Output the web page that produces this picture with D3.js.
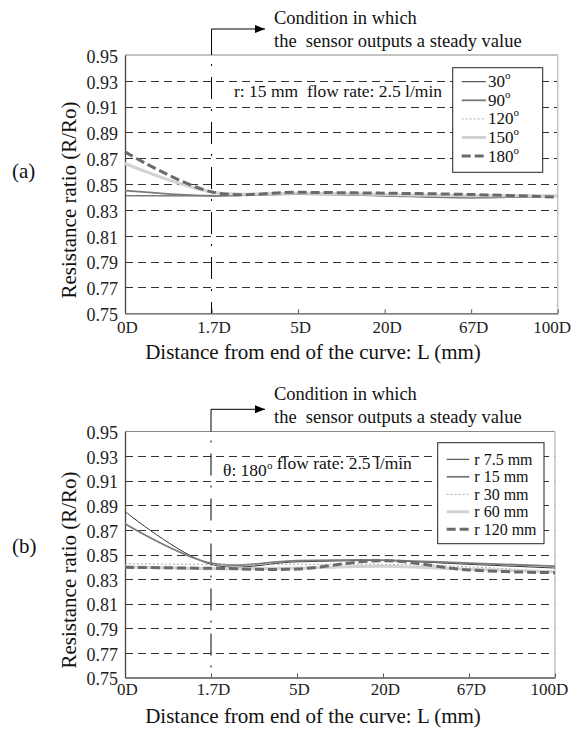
<!DOCTYPE html>
<html>
<head>
<meta charset="utf-8">
<script src="https://cdn.jsdelivr.net/npm/d3@7"></script>
<style>
  body { margin: 0; background: #fff; }
  svg { font-family: "Liberation Serif", "Times New Roman", serif; }
</style>
</head>
<body>
<div id="chart"></div>
<script>
// x categories (distance from end of the curve)
var distLabels = ["0D", "1.7D", "5D", "20D", "67D", "100D"];
var yTicks = [0.75, 0.77, 0.79, 0.81, 0.83, 0.85, 0.87, 0.89, 0.91, 0.93, 0.95];

// panel (a): bend angle, r = 15 mm
var anglesA = ["30", "90", "120", "150", "180"];
var a30  = [0.841, 0.841, 0.842, 0.841, 0.8395, 0.841];
var a90  = [0.845, 0.841, 0.843, 0.841, 0.8395, 0.841];
var a120 = [0.865, 0.844, 0.843, 0.842, 0.841, 0.840];
var a150 = [0.866, 0.844, 0.843, 0.842, 0.841, 0.841];
var a180 = [0.875, 0.844, 0.8437, 0.843, 0.842, 0.840];

// panel (b): curve radius, theta = 180
var radiiB = ["r 7.5 mm", "r 15 mm", "r 30 mm", "r 60 mm", "r 120 mm"];
var b7_5 = [0.885, 0.842, 0.844, 0.845, 0.842, 0.839];
var b15  = [0.875, 0.843, 0.845, 0.8455, 0.843, 0.8405];
var b30  = [0.8425, 0.842, 0.842, 0.842, 0.840, 0.836];
var b60  = [0.840, 0.8385, 0.839, 0.8405, 0.838, 0.836];
var b120 = [0.8396, 0.8388, 0.8382, 0.845, 0.8374, 0.8352];

// line styles, same order in both panels
var styles = [
    {color: "#333", width: 1, dash: null},
    {color: "#7a7a7a", width: 1.8, dash: null},
    {color: "#aaa", width: 1, dash: "2,2"},
    {color: "#d2d2d2", width: 3, dash: null},
    {color: "#6a6a6a", width: 3, dash: "9,4"}
];

var svg = d3.select("#chart").append("svg")
    .attr("width", 577)
    .attr("height", 731);

var defs = svg.append("defs");
defs.append("marker")
    .attr("id", "arrow")
    .attr("viewBox", "0 0 10 10")
    .attr("refX", 10).attr("refY", 5)
    .attr("markerWidth", 10).attr("markerHeight", 10)
    .attr("markerUnits", "userSpaceOnUse")
    .attr("orient", "auto")
    .append("path")
    .attr("d", "M0,1 L10,5 L0,9 Z")
    .attr("fill", "#000");

function drawPanel(p) {
    var x = d3.scalePoint().domain(distLabels).range([p.left, p.right]);
    var y = d3.scaleLinear().domain([0.75, 0.95]).range([p.bottom, p.top]);
    var g = svg.append("g");

    // dashed grid
    g.selectAll(".grid")
        .data(yTicks.slice(1, -1))
        .enter().append("line")
        .attr("x1", p.left).attr("x2", p.right)
        .attr("y1", function (d) { return Math.round(y(d)) + 0.5; })
        .attr("y2", function (d) { return Math.round(y(d)) + 0.5; })
        .attr("stroke", "#333")
        .attr("stroke-width", 1)
        .attr("stroke-dasharray", "8,5");

    // frame: top and right are lighter
    g.append("line").attr("x1", p.left).attr("x2", p.right)
        .attr("y1", p.top).attr("y2", p.top)
        .attr("stroke", "#888").attr("stroke-width", 1.2);
    g.append("line").attr("x1", p.right).attr("x2", p.right)
        .attr("y1", p.top).attr("y2", p.bottom)
        .attr("stroke", "#c4c4c4").attr("stroke-width", 1.5);

    // x axis
    var xAxis = g.append("g")
        .attr("transform", "translate(0," + p.bottom + ")")
        .call(d3.axisBottom(x).tickSizeInner(-4).tickSizeOuter(0).tickPadding(0));
    xAxis.select(".domain").attr("stroke", "#555").attr("stroke-width", 1.3);
    xAxis.selectAll(".tick line").attr("stroke", "#555");
    xAxis.selectAll("text")
        .attr("y", p.xTickY - p.bottom).attr("dy", null)
        .attr("dx", function (d, i) { return i === distLabels.length - 1 ? -6 : 2; })
        .attr("fill", "#222")
        .style("font-size", "17px")
        .style("font-family", "Liberation Serif, serif");

    // y axis
    var yAxis = g.append("g")
        .attr("transform", "translate(" + p.left + ",0)")
        .call(d3.axisLeft(y).tickValues(yTicks).tickSize(0).tickPadding(7)
            .tickFormat(d3.format(".2f")));
    yAxis.select(".domain").attr("stroke", "#444").attr("stroke-width", 1.3);
    yAxis.selectAll("text")
        .attr("dy", "0.4em")
        .attr("fill", "#222")
        .style("font-size", "18px")
        .style("font-family", "Liberation Serif, serif");

    // steady value marker line at 1.7D
    var vx = x("1.7D");
    g.append("line").attr("x1", vx).attr("x2", vx)
        .attr("y1", p.vTop).attr("y2", p.top)
        .attr("stroke", "#000").attr("stroke-width", 1);
    g.append("line").attr("x1", vx).attr("x2", vx)
        .attr("y1", p.top).attr("y2", p.bottom)
        .attr("stroke", "#000").attr("stroke-width", 1)
        .attr("stroke-dasharray", "22,10,2,11")
        .attr("stroke-dashoffset", 23);
    g.append("line").attr("x1", vx).attr("x2", 265)
        .attr("y1", p.vTop).attr("y2", p.vTop)
        .attr("stroke", "#000").attr("stroke-width", 1)
        .attr("marker-end", "url(#arrow)");
    g.append("text").attr("x", 274).attr("y", p.note1Y)
        .style("font-size", "18.5px").attr("fill", "#111")
        .text("Condition in which");
    g.append("text").attr("x", 274).attr("y", p.note1Y + 23)
        .style("font-size", "18.5px").attr("fill", "#111")
        .style("white-space", "pre")
        .text("the  sensor outputs a steady value");

    // condition text inside plot
    var cond = g.append("text").attr("x", p.condX).attr("y", p.condY)
        .style("font-size", "17.5px").attr("fill", "#111")
        .style("white-space", "pre");
    p.condParts.forEach(function (part) {
        if (part.sup) {
            cond.append("tspan").attr("dy", -7).style("font-size", "11px").text(part.t);
            cond.append("tspan").attr("dy", 7).text("");
        } else {
            cond.append("tspan").text(part.t);
        }
    });

    // curves
    var line = d3.line()
        .x(function (d, i) { return x(distLabels[i]); })
        .y(function (d) { return y(d); })
        .curve(d3.curveCatmullRom.alpha(0.5));
    p.series.forEach(function (s, i) {
        var st = styles[i];
        g.append("path")
            .datum(s)
            .attr("d", line)
            .attr("fill", "none")
            .attr("stroke", st.color)
            .attr("stroke-width", st.width)
            .attr("stroke-dasharray", st.dash);
    });

    // legend
    var lg = p.legend;
    g.append("rect")
        .attr("x", lg.x).attr("y", lg.y)
        .attr("width", lg.w).attr("height", lg.h)
        .attr("fill", "#fff").attr("stroke", "#222").attr("stroke-width", 1);
    p.names.forEach(function (name, i) {
        var st = styles[i];
        var ry = lg.row0 + i * lg.step;
        g.append("line")
            .attr("x1", lg.lx1).attr("x2", lg.lx2)
            .attr("y1", ry).attr("y2", ry)
            .attr("stroke", st.color)
            .attr("stroke-width", st.width)
            .attr("stroke-dasharray", st.dash);
        var t = g.append("text")
            .attr("x", lg.tx).attr("y", ry + 5.5)
            .style("font-size", lg.font).attr("fill", "#111")
            .text(name);
        if (p.degrees) {
            t.append("tspan").attr("dy", -8).style("font-size", "11px").text("o");
        }
    });

    // axis titles and panel label
    g.append("text")
        .attr("transform", "translate(76," + p.yTitleC + ") rotate(-90)")
        .attr("text-anchor", "middle")
        .style("font-size", "21px").attr("fill", "#111")
        .text("Resistance ratio (R/Ro)");
    g.append("text")
        .attr("x", 313).attr("y", p.bottom + 45.5)
        .attr("text-anchor", "middle")
        .style("font-size", "21px").attr("fill", "#111")
        .text("Distance from end of the curve: L (mm)");
    g.append("text")
        .attr("x", 12).attr("y", p.labelY)
        .style("font-size", "21px").attr("fill", "#111")
        .text(p.label);
}

drawPanel({
    top: 55, bottom: 313.3, left: 125, right: 557.7,
    vTop: 29, note1Y: 23.5, xTickY: 333,
    condX: 234, condY: 97,
    condParts: [{t: "r: 15 mm  flow rate: 2.5 l/min"}],
    series: [a30, a90, a120, a150, a180],
    names: anglesA, degrees: true,
    legend: {x: 452.7, y: 67.7, w: 90, h: 104.6, row0: 81.7, step: 18.6,
             lx1: 461.7, lx2: 486, tx: 488, font: "17px"},
    yTitleC: 200, labelY: 178, label: "(a)"
});

drawPanel({
    top: 431.5, bottom: 677.5, left: 125, right: 555,
    vTop: 409.3, note1Y: 400, xTickY: 695,
    condX: 223, condY: 476,
    condParts: [{t: "θ: 180"}, {t: "o", sup: true}, {t: " flow rate: 2.5 l/min"}],
    series: [b7_5, b15, b30, b60, b120],
    names: radiiB, degrees: false,
    legend: {x: 437.7, y: 442.7, w: 106.3, h: 101, row0: 459.3, step: 17.5,
             lx1: 446.7, lx2: 469.3, tx: 474.3, font: "16px"},
    yTitleC: 570, labelY: 553, label: "(b)"
});
</script>
</body>
</html>
